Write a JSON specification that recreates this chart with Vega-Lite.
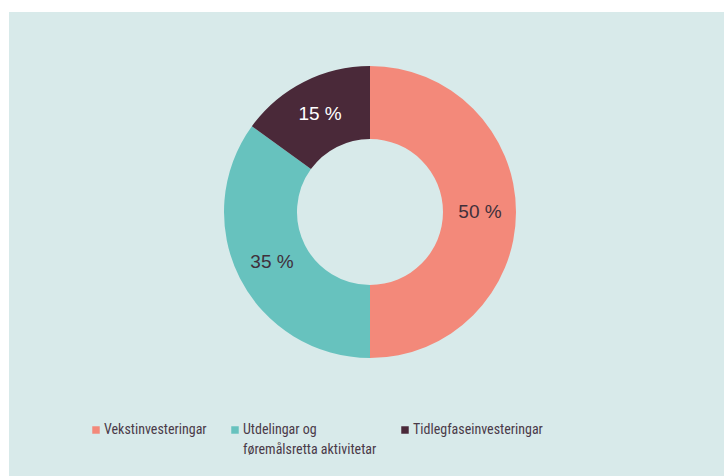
{
  "$schema": "https://vega.github.io/schema/vega-lite/v6.json",
  "width": 715,
  "height": 464,
  "autosize": "none",
  "padding": {"left": 9, "top": 12, "right": 0, "bottom": 0},
  "background": "white",
  "view": {"fill": "#d8eaea", "stroke": null},
  "data": {"values": [
    {"category": "Vekstinvesteringar", "share": 50, "label": "50 %"},
    {"category": "Utdelingar og føremålsretta aktivitetar", "share": 35, "label": "35 %"},
    {"category": "Tidlegfaseinvesteringar", "share": 15, "label": "15 %"}
  ]},
  "encoding": {
    "theta": {"field": "share", "type": "quantitative", "stack": true},
    "order": {"field": "share", "sort": "descending"}
  },
  "layer": [
    {
      "mark": {"type": "arc", "outerRadius": 146, "innerRadius": 73, "xOffset": 3.5, "yOffset": -32},
      "encoding": {
        "color": {
          "field": "category", "type": "nominal",
          "scale": {
            "domain": ["Vekstinvesteringar", "Utdelingar og føremålsretta aktivitetar", "Tidlegfaseinvesteringar"],
            "range": ["#f3897a", "#67c2be", "#4a2939"]
          },
          "legend": {
            "orient": "none", "legendX": 80, "legendY": 411,
            "direction": "horizontal", "columns": 3, "columnPadding": 21,
            "title": null, "symbolType": "square", "symbolSize": 56, "symbolStrokeWidth": 0,
            "labelFont": "'Roboto Condensed', 'DejaVu Sans Condensed', sans-serif", "labelFontSize": 14, "labelColor": "#4a3a48",
            "labelLimit": 300, "labelOffset": 1, "labelBaseline": "middle",
            "labelExpr": "datum.label == 'Utdelingar og føremålsretta aktivitetar' ? ['Utdelingar og', 'føremålsretta aktivitetar'] : [datum.label, '']",
            "encode": {"labels": {"update": {"lineHeight": {"value": 20}}}}
          }
        }
      }
    },
    {
      "mark": {"type": "text", "radius": 110, "fontSize": 19, "font": "Liberation Sans", "xOffset": 3.5, "yOffset": -32},
      "encoding": {
        "text": {"field": "label"},
        "color": {
          "condition": {"test": "datum.category == 'Tidlegfaseinvesteringar'", "value": "#ffffff"},
          "value": "#40303b"
        }
      }
    }
  ]
}
